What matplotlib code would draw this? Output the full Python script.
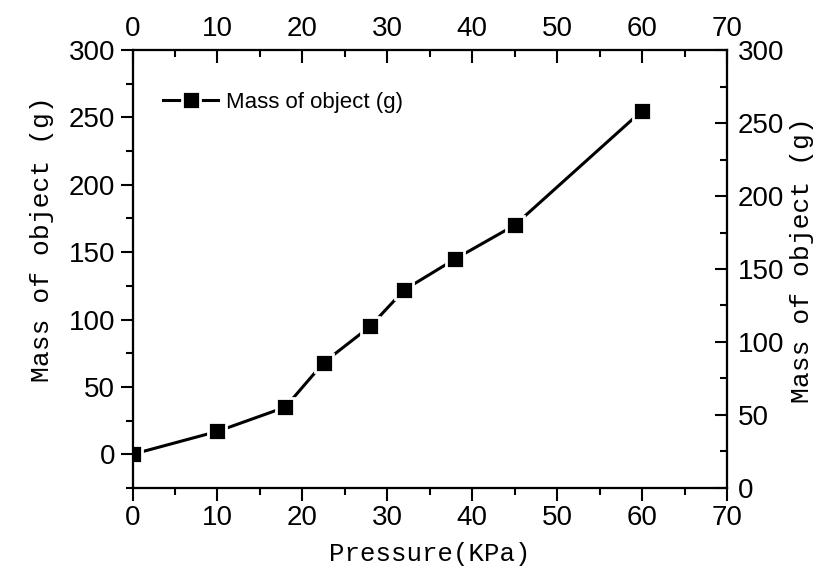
import matplotlib
matplotlib.use("Agg")
import matplotlib.pyplot as plt
from matplotlib.ticker import MultipleLocator

plt.rcParams['font.family'] = ['Liberation Sans', 'DejaVu Sans']

pressure = [0, 10, 18, 22.5, 28, 32, 38, 45, 60]
mass = [0, 17, 35, 68, 95, 122, 145, 170, 255]
series_name = 'Mass of object (g)'
xlabel = 'Pressure(KPa)'
ylabel = 'Mass of object (g)'
label_font = ['Liberation Mono', 'DejaVu Sans Mono']

fig = plt.figure(figsize=(8.21, 5.79), dpi=100)
ax = fig.add_axes([0.1614, 0.1572, 0.7241, 0.7564])

ax.plot(pressure, mass, color='black', lw=2.2, marker='s', ms=13.5,
        mfc='black', mec='white', mew=2.0, label=series_name, zorder=3)

ax.set_xlim(0, 70)
ax.set_ylim(-25, 300)
ax.xaxis.set_major_locator(MultipleLocator(10))
ax.xaxis.set_minor_locator(MultipleLocator(5))
ax.yaxis.set_major_locator(MultipleLocator(50))
ax.yaxis.set_minor_locator(MultipleLocator(25))
ax.tick_params(which='major', direction='out', length=9, width=1.5, labelsize=20, pad=3.5)
ax.tick_params(which='minor', direction='out', length=5, width=1.5)
ax.tick_params(axis='x', pad=3.5)

# top axis
axt = ax.twiny()
axt.set_xlim(0, 70)
axt.xaxis.set_major_locator(MultipleLocator(10))
axt.xaxis.set_minor_locator(MultipleLocator(5))
axt.tick_params(which='major', direction='in', length=9, width=1.5, labelsize=20, pad=5.5)
axt.tick_params(which='minor', direction='in', length=5, width=1.5)

# right axis
axr = ax.twinx()
axr.set_ylim(0, 300)
axr.yaxis.set_major_locator(MultipleLocator(50))
axr.yaxis.set_minor_locator(MultipleLocator(25))
axr.tick_params(which='major', direction='in', length=9, width=1.5, labelsize=20, pad=7.5)
axr.tick_params(which='minor', direction='in', length=5, width=1.5)

for a in (ax, axt, axr):
    for s in a.spines.values():
        s.set_linewidth(1.5)

ax.set_xlabel(xlabel, fontsize=18.5, family=label_font, labelpad=8)
ax.set_ylabel(ylabel, fontsize=19, family=label_font)
axr.set_ylabel(ylabel, fontsize=19, family=label_font)
ax.yaxis.set_label_coords(-0.132, 0.5685)
axr.yaxis.set_label_coords(1.106, 0.5205)

ax.legend(loc='center left', bbox_to_anchor=(0.051, 0.881), frameon=False,
          fontsize=16, handlelength=2.5, handletextpad=0.35,
          borderpad=0, borderaxespad=0)

fig.savefig('out.png', dpi=100)
